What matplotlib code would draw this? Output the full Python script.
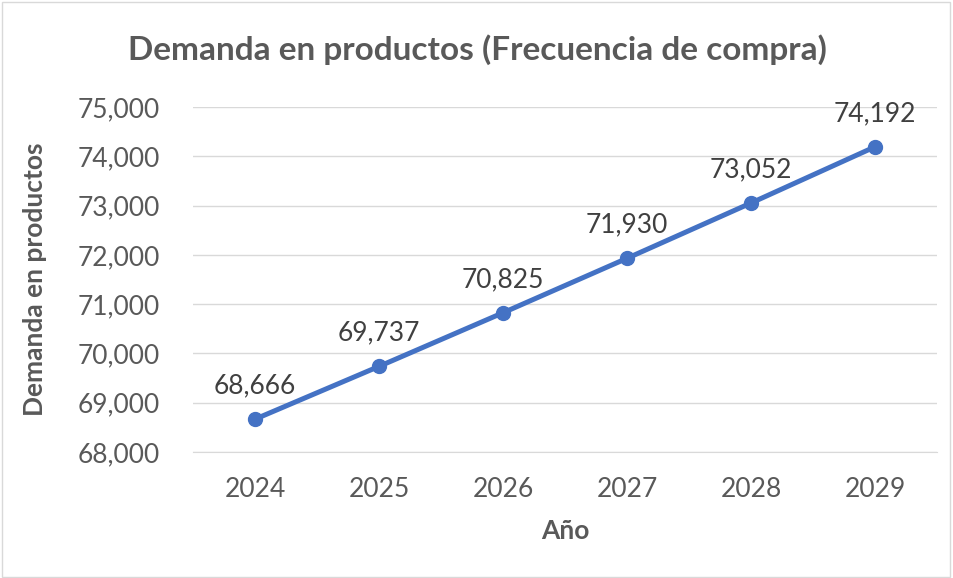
import matplotlib
matplotlib.use("Agg")
import matplotlib.pyplot as plt
from matplotlib.patches import Rectangle
from matplotlib.ticker import FuncFormatter

years = ["2024", "2025", "2026", "2027", "2028", "2029"]
demand = [68666, 69737, 70825, 71930, 73052, 74192]
y_ticks = [68000, 69000, 70000, 71000, 72000, 73000, 74000, 75000]

plt.rcParams['font.family'] = ['Lato', 'DejaVu Sans']
gray = '#595959'

fig = plt.figure(figsize=(9.54, 5.78), dpi=100)
ax = fig.add_axes([193/954, 1-452/578, (937-193)/954, (452-107)/578])

x = list(range(len(years)))
ax.plot(x, demand, color='#4472C4', linewidth=3.6, marker='o', markersize=10,
        markerfacecolor='#4472C4', markeredgecolor='#4472C4', zorder=3)
for xi, v in zip(x, demand):
    ax.annotate(f"{v:,}", (xi, v), textcoords='offset points', xytext=(0, 15),
                ha='center', va='bottom', fontsize=19, color='#404040')

ax.set_xlim(-0.5, len(years)-0.5)
ax.set_ylim(68000, 75000)
ax.set_yticks(y_ticks)
ax.yaxis.set_major_formatter(FuncFormatter(lambda v, p: f"{int(v):,}"))
ax.set_xticks(x)
ax.set_xticklabels(years)
ax.tick_params(axis='both', length=0, labelsize=19, labelcolor=gray)
ax.tick_params(axis='y', pad=24)
ax.tick_params(axis='x', pad=18)
ax.grid(axis='y', color='#D9D9D9', linewidth=1)
ax.set_axisbelow(True)
for s in ['top', 'right', 'left']:
    ax.spines[s].set_visible(False)
ax.spines['bottom'].set_color('#D9D9D9')

ax.set_xlabel("Año", fontsize=19, fontweight='bold', color=gray, labelpad=12)
ax.set_ylabel("Demanda en productos", fontsize=19, fontweight='bold', color=gray, labelpad=22)
fig.text(0.5, 1-50/578, "Demanda en productos (Frecuencia de compra)", ha='center', va='center',
         fontsize=24, fontweight='bold', color=gray)

fig.patches.append(Rectangle((0.002, 0.002), 0.994, 0.994, transform=fig.transFigure,
                             fill=False, edgecolor='#D9D9D9', linewidth=1))

fig.savefig("out.png", dpi=100)
